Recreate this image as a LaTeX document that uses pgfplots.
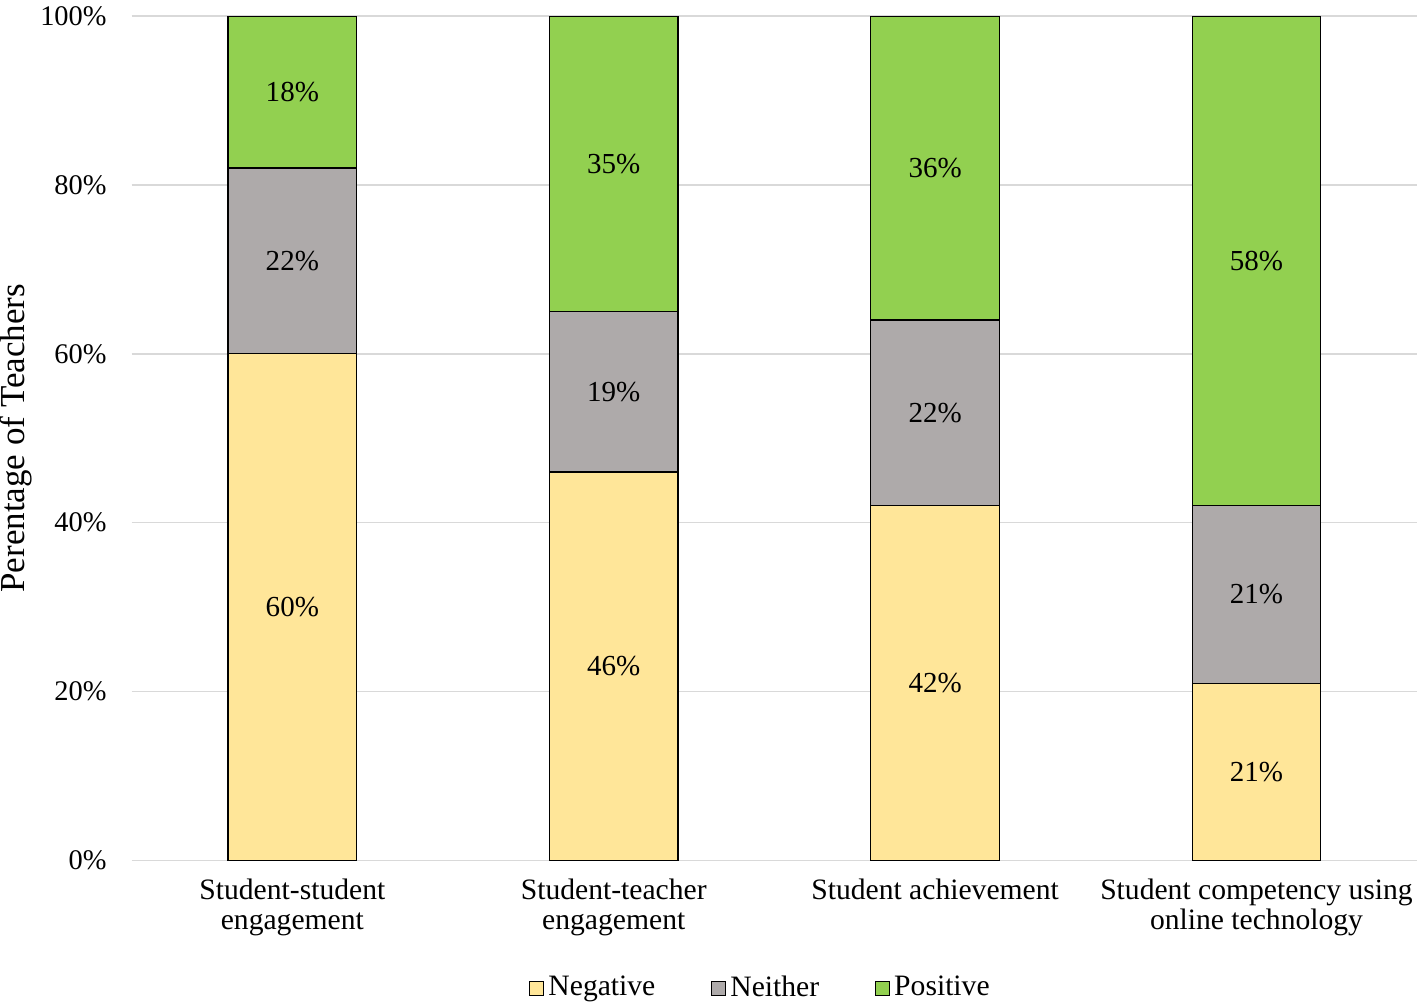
\documentclass[border=0pt]{standalone}
\usepackage{fontspec}
\setmainfont{Liberation Serif}
\usepackage{pgfplots}
\usepackage{pgfplotstable}
\pgfplotsset{compat=1.18}
\definecolor{negc}{HTML}{FFE699}
\definecolor{neic}{HTML}{AEAAAA}
\definecolor{posc}{HTML}{92D050}
\definecolor{gridc}{HTML}{D9D9D9}
\pgfplotstableread{
x neg nei pos
0 60 22 18
1 46 19 35
2 42 22 36
3 21 21 58
}\datatab
\pgfplotstableread{
x y lab
0 30 60\%
0 71 22\%
0 91 18\%
1 23 46\%
1 55.5 19\%
1 82.5 35\%
2 21 42\%
2 53 22\%
2 82 36\%
3 10.5 21\%
3 31.5 21\%
3 71 58\%
}\labtab
\begin{document}
\fontsize{14.5}{17}\selectfont
\begin{tikzpicture}
\begin{axis}[
  at={(0,0)}, anchor=origin,
  scale only axis, width=642.5pt, height=422pt,
  ybar stacked, bar width=0.4,
  xmin=-0.5, xmax=3.5, ymin=0, ymax=100,
  axis line style={draw=none},
  major tick length=0pt,
  ymajorgrids, grid style={color=gridc, line width=0.8pt},
  ytick={0,20,40,60,80,100},
  yticklabel={\pgfmathprintnumber{\tick}\%},
  yticklabel style={xshift=-7.5pt, inner ysep=3.2pt, font=\fontsize{14.2}{17}\selectfont},
  xtick={0,1,2,3},
  xticklabels={Student-student\\engagement, Student-teacher\\engagement, Student achievement, Student competency using\\online technology},
  xticklabel style={align=center, font=\fontsize{14.8}{15.2}\selectfont, yshift=-4pt, inner xsep=0.5pt},
  ylabel={Perentage of Teachers},
  ylabel style={font=\fontsize{17.5}{19}\selectfont, inner sep=0pt, yshift=-1pt},
  /pgf/number format/assume math mode=true,
  legend style={at={(0.49,-0.129)}, anchor=north, draw=none, legend columns=3,
    inner ysep=1pt,
    /tikz/every even column/.append style={column sep=26pt},
    font=\fontsize{14.8}{17}\selectfont},
  legend image code/.code={\draw[#1, draw=black, line width=0.5pt] (0pt,-3.5pt) rectangle (7pt,3.5pt);},
]
\addplot[fill=negc, draw=black, line width=0.6pt] table[x=x, y=neg] {\datatab};
\addplot[fill=neic, draw=black, line width=0.6pt] table[x=x, y=nei] {\datatab};
\addplot[fill=posc, draw=black, line width=0.6pt] table[x=x, y=pos] {\datatab};
\legend{Negative, Neither, Positive}
\end{axis}
\begin{axis}[
  at={(0,0)}, anchor=origin,
  scale only axis, width=642.5pt, height=422pt,
  xmin=-0.5, xmax=3.5, ymin=0, ymax=100,
  hide axis,
]
\addplot[only marks, mark=none, nodes near coords, point meta=explicit symbolic,
  every node near coord/.style={anchor=center, font=\fontsize{14.5}{17}\selectfont}]
  table[x=x, y=y, meta=lab] {\labtab};
\end{axis}
\end{tikzpicture}
\end{document}
